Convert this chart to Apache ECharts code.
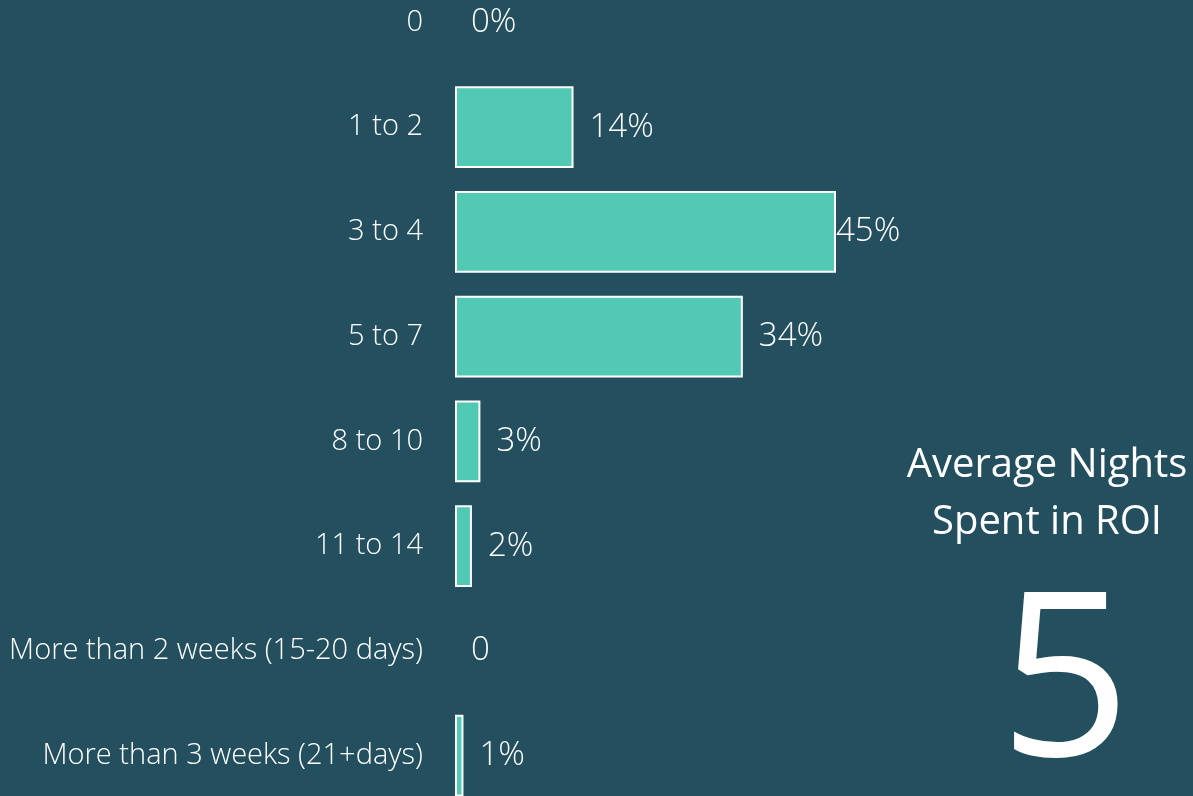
<!DOCTYPE html>
<html>
<head>
<meta charset="utf-8">
<script src="https://cdn.jsdelivr.net/npm/echarts@6/dist/echarts.min.js"></script>
<style>
  html, body { margin: 0; padding: 0; background: #234f5e; }
  #main { width: 1193px; height: 796px; }
</style>
</head>
<body>
<div id="main"></div>
<script>
// categories top to bottom
const categories = ['0', '1 to 2', '3 to 4', '5 to 7', '8 to 10', '11 to 14',
  'More than 2 weeks (15-20 days)', 'More than 3 weeks (21+days)'];
const shares = [0, 14, 45, 34, 3, 2, 0, 1];
const shareLabels = ['0%', '14%', '45%', '34%', '3%', '2%', '0', '1%'];
const averageNights = '5';

const font = '"Open Sans"';
const chart = echarts.init(document.getElementById('main'));

const seriesData = shares.map((v, i) => {
  let item = { value: v };
  // no white outline on empty bars
  if (v === 0) item.itemStyle = { borderWidth: 0 };
  // the 45% label sits right against the end of its bar
  if (shareLabels[i] === '45%') item.label = { distance: 0 };
  return item;
});

chart.setOption({
  backgroundColor: '#234f5e',
  grid: { left: 455, width: 508, top: -30, bottom: -12, outerBoundsMode: 'none' },
  xAxis: {
    type: 'value', min: 0, max: 60, show: false
  },
  yAxis: {
    type: 'category',
    data: categories,
    inverse: true,
    axisLine: { show: false },
    axisTick: { show: false },
    axisLabel: {
      color: '#ffffff',
      fontFamily: font,
      fontWeight: 300,
      fontSize: 29,
      margin: 32
    }
  },
  series: [{
    type: 'bar',
    data: seriesData,
    barCategoryGap: '22%',
    itemStyle: { color: '#52c9b5', borderColor: '#ffffff', borderWidth: 2 },
    label: {
      show: true,
      position: 'right',
      distance: 16,
      color: '#ffffff',
      fontFamily: font,
      fontWeight: 300,
      fontSize: 33,
      formatter: p => shareLabels[p.dataIndex]
    },
    animation: false
  }],
  graphic: [
    {
      type: 'text', x: 1047, y: 494,
      style: {
        text: 'Average Nights\nSpent in ROI', fill: '#ffffff',
        font: '40px ' + font, align: 'center', verticalAlign: 'middle',
        lineHeight: 57
      }
    },
    {
      type: 'text', x: 1065, y: 690,
      style: {
        text: averageNights, fill: '#ffffff',
        font: '230px ' + font, align: 'center', verticalAlign: 'middle'
      }
    }
  ]
});
</script>
</body>
</html>
